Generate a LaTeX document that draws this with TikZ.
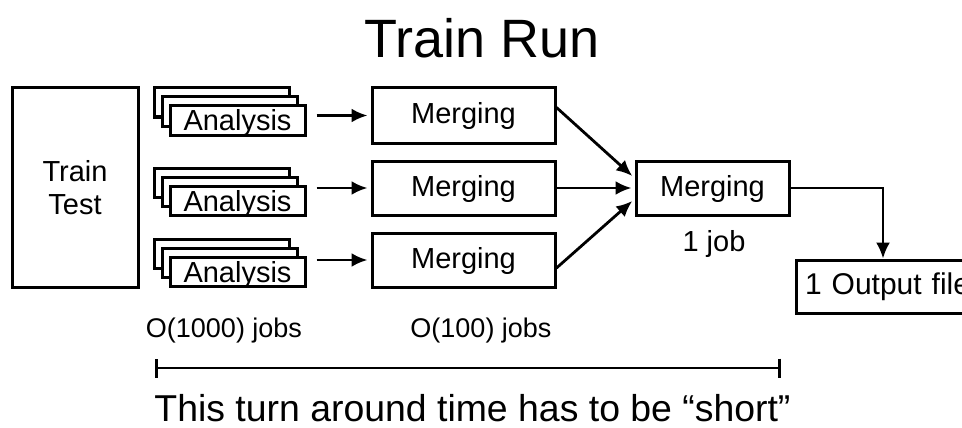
\documentclass[tikz,border=0pt]{standalone}
\usepackage{fontspec}
\setmainfont{Liberation Sans}
\usetikzlibrary{arrows.meta,calc}
\begin{document}
\begin{tikzpicture}[x=1pt,y=-1pt,
  box/.style={draw=black,line width=3pt,fill=white,inner sep=0pt,font=\fontsize{29}{33}\selectfont},
  mbox/.style={box,text height=21pt,text depth=5pt},
  abox/.style={box,minimum width=135pt,minimum height=29pt,text height=21pt,text depth=0pt},
  arr/.style={line width=2.8pt,-{Latex[length=16pt,width=14pt]}},
  lbl/.style={inner sep=0pt,font=\fontsize{27}{30}\selectfont}]
\useasboundingbox (0,0) rectangle (962,428);
\node[inner sep=0pt,font=\fontsize{54}{60}\selectfont] (title) at (482,38) {Train Run};
\node[box,minimum width=126pt,minimum height=199pt,align=center] (tt) at (75,187.5) {Train\\Test};
% analysis stacks
\foreach \i/\y in {1/120.5,2/200.5,3/272} {
  \node[abox] (b\i) at (221.5,\y-18) {};
  \node[abox] (c\i) at (229.5,\y-9) {};
  \node[abox] (a\i) at (237.5,\y) {Analysis};
}
\node[mbox,minimum width=183pt,minimum height=55pt] (m1) at (463.5,115.5) {Merging};
\node[mbox,minimum width=183pt,minimum height=54pt] (m2) at (463.5,188) {Merging};
\node[mbox,minimum width=183pt,minimum height=54pt] (m3) at (463.5,260) {Merging};
\node[mbox,minimum width=153pt,minimum height=54pt] (mf) at (712.5,188) {Merging};
\node[box,font=\fontsize{30}{33}\selectfont,inner xsep=9pt,minimum height=53pt,text width=170pt,align=left] (out) at (890,286.5) {1 Output file};
\node[inner sep=0pt,font=\fontsize{29}{31}\selectfont] (job) at (714,244) {1 job};
\node[lbl] (j1) at (224,331) {O(1000) jobs};
\node[lbl] (j2) at (481,331) {O(100) jobs};
\foreach \i in {1,2,3} {
  \draw[arr,shorten <=10pt,shorten >=3pt] (m\i.west -| a\i.east) -- (m\i.west);
}
\draw[arr,shorten >=3pt] ([yshift=8pt]m1.east) -- ([yshift=10pt]mf.west);
\draw[arr,shorten >=3pt] (m2.east) -- (mf.west);
\draw[arr,shorten >=3pt] ([yshift=-8pt]m3.east) -- ([yshift=-11pt]mf.west);
\draw[arr,line width=2.4pt] (mf.east) -| ([xshift=-7pt]out.north);
\coordinate (l) at (155,368);
\coordinate (r) at (781,368);
\draw[line width=2.6pt,{Bar[width=19pt]}-{Bar[width=19pt]}] (l) -- (r);
\node[inner sep=0pt,anchor=base,font=\fontsize{37.4}{40}\selectfont] (note) at (472.5,421) {This turn around time has to be “short”};
\end{tikzpicture}
\end{document}
